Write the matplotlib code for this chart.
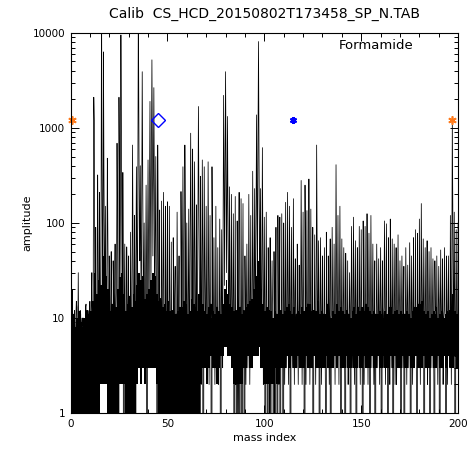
import numpy as np
import matplotlib
matplotlib.use("Agg")
import matplotlib.pyplot as plt
from matplotlib.ticker import FixedLocator, LogLocator, NullFormatter

plt.rcParams["path.simplify"] = False

# ---- Daten ----
title = "Calib  CS_HCD_20150802T173458_SP_N.TAB"
label = "Formamide"

# Peakhoehe je Massenindex 0..200
peaks = [
    25, 20, 12, 15, 30, 12, 10, 8, 14, 12,
    15, 30, 2100, 90, 320, 210, 30000, 6300, 150, 480,
    45, 50, 40, 60, 690, 2100, 9500, 340, 60, 56,
    45, 80, 660, 120, 390, 25000, 400, 3900, 100, 250,
    460, 1900, 5200, 2650, 500, 660, 137, 170, 210, 150,
    167, 150, 63, 70, 35, 130, 45, 214, 390, 660,
    100, 140, 880, 600, 440, 155, 1680, 310, 460, 390,
    150, 440, 120, 390, 70, 150, 55, 110, 85, 2200,
    3900, 1320, 240, 200, 125, 190, 105, 210, 180, 160,
    45, 60, 200, 120, 350, 230, 1370, 8100, 230, 620,
    115, 130, 55, 70, 40, 50, 90, 120, 115, 125,
    100, 165, 210, 150, 90, 180, 42, 60, 36, 280,
    130, 250, 135, 290, 140, 90, 75, 660, 65, 70,
    45, 55, 80, 45, 68, 90, 60, 410, 120, 150,
    68, 55, 48, 40, 30, 92, 115, 65, 55, 92,
    85, 105, 92, 125, 78, 120, 60, 40, 60, 42,
    55, 40, 105, 98, 70, 110, 68, 60, 55, 75,
    40, 45, 35, 55, 36, 62, 45, 70, 85, 78,
    110, 160, 68, 55, 65, 50, 55, 42, 40, 45,
    35, 52, 42, 55, 45, 45, 120, 1200, 130, 85,
    100,
]

# Rauschwerte zwischen den Peaks (3 Stuetzstellen je Masse, Counts)
noise_000 = [
    9, 0, 12, 4, 11, 0, 7, 1, 10, 13, 0, 6, 5, 9, 0, 11, 2, 8, 0, 10, 6, 8, 0, 13, 3, 12, 0, 10, 1, 7,
    0, 9, 14, 6, 0, 45, 1200, 35, 0, 8, 14, 2, 60, 11, 0, 7, 3, 70, 450, 55, 28, 320, 40, 14, 9, 4, 22, 90, 12, 0,
    12, 0, 16, 3, 14, 0, 18, 1, 9, 0, 13, 22, 120, 8, 0, 260, 15, 150, 900, 60, 3, 40, 0, 15, 10, 2, 0, 14, 0, 11,
    0, 17, 5, 12, 0, 20, 70, 9, 1, 16, 0, 40, 45, 6, 300, 1500, 90, 40, 50, 8, 180, 350, 30, 12, 6, 3, 25, 30, 0, 45,
    60, 4, 220, 200, 18, 500, 600, 45, 300, 250, 25, 70, 40, 6, 0, 55, 10, 2, 0, 16, 8, 20, 0, 14, 25, 1, 0, 18, 0, 12,
]
noise_050 = [
    0, 15, 9, 13, 0, 7, 2, 12, 0, 9, 0, 16, 0, 11, 4, 14, 0, 10, 1, 13, 0, 22, 0, 30, 45, 2, 0, 60, 0, 12,
    10, 0, 14, 15, 1, 80, 90, 8, 0, 55, 0, 40, 35, 3, 12, 0, 14, 120, 180, 20, 0, 30, 2, 40, 45, 0, 15, 30, 5, 11,
    13, 3, 9, 40, 2, 12, 8, 14, 0, 40, 3, 10, 12, 2, 7, 9, 13, 3, 2, 11, 8, 14, 0, 10, 11, 3, 120, 260, 22, 400,
    450, 30, 160, 120, 12, 6, 25, 5, 14, 18, 6, 11, 13, 0, 9, 2, 12, 0, 14, 1, 10, 0, 13, 3, 11, 0, 16, 3, 12, 0,
    10, 2, 13, 12, 3, 9, 20, 2, 14, 11, 4, 15, 30, 6, 20, 25, 8, 150, 140, 30, 900, 600, 60, 18, 25, 3, 40, 60, 2, 12,
]
noise_100 = [
    11, 0, 9, 14, 2, 0, 8, 12, 1, 0, 10, 13, 12, 2, 0, 9, 0, 14, 3, 11, 0, 13, 2, 10, 0, 12, 8, 11, 3, 0,
    14, 2, 9, 10, 3, 13, 22, 2, 11, 12, 0, 15, 9, 3, 12, 13, 2, 18, 8, 11, 3, 12, 2, 9, 3, 10, 14, 28, 2, 11,
    12, 3, 0, 18, 2, 12, 10, 14, 3, 25, 2, 11, 13, 3, 9, 0, 12, 10, 9, 2, 14, 60, 4, 12, 11, 0, 9, 13, 2, 10,
    3, 11, 8, 12, 2, 0, 9, 14, 3, 11, 2, 13, 0, 10, 12, 14, 3, 9, 10, 2, 15, 40, 3, 11, 12, 2, 16, 14, 0, 10,
    9, 3, 12, 13, 2, 0, 10, 12, 3, 2, 11, 9, 12, 0, 13, 14, 3, 10, 16, 2, 12, 9, 0, 11, 3, 13, 10, 12, 2, 14,
]
noise_150 = [
    11, 3, 0, 13, 2, 12, 10, 14, 3, 15, 2, 11, 12, 0, 9, 14, 3, 13, 9, 2, 12, 0, 11, 10, 13, 3, 9, 10, 2, 14,
    12, 0, 11, 3, 10, 13, 14, 2, 12, 11, 3, 0, 10, 13, 2, 15, 3, 11, 9, 0, 12, 13, 2, 10, 2, 12, 9, 11, 3, 14,
    10, 0, 12, 13, 3, 9, 0, 11, 10, 12, 2, 13, 9, 3, 11, 14, 0, 10, 11, 2, 12, 3, 13, 9, 12, 2, 0, 10, 14, 3,
    13, 2, 12, 20, 3, 11, 9, 0, 13, 12, 3, 10, 2, 11, 12, 13, 0, 9, 10, 3, 14, 11, 2, 0, 12, 13, 3, 9, 2, 11,
    14, 0, 10, 12, 3, 13, 2, 10, 12, 11, 3, 0, 13, 2, 10, 9, 12, 3, 14, 2, 40, 150, 8, 12, 11, 0, 13, 10, 3, 12,
]

# dichter Rauschsockel je Masse: Ober- und Untergrenze (0 = bis zur Achse)
floor_top = [
    9, 10, 8, 10, 12, 9, 8, 10, 9, 11, 12, 15, 30, 18, 25, 22, 50, 45, 28, 20,
    12, 14, 11, 13, 20, 27, 30, 18, 12, 14, 11, 13, 18, 15, 22, 30, 25, 28, 16, 18,
    20, 25, 30, 28, 18, 15, 12, 13, 14, 12, 11, 12, 10, 11, 9, 12, 10, 13, 15, 14,
    11, 12, 16, 14, 13, 12, 18, 13, 14, 12, 11, 13, 10, 12, 11, 10, 12, 11, 14, 20,
    25, 18, 14, 13, 12, 11, 13, 12, 11, 12, 13, 14, 15, 16, 20, 28, 40, 55, 20, 14,
    12, 13, 11, 12, 10, 12, 11, 13, 12, 11, 12, 13, 14, 12, 11, 13, 10, 12, 11, 13,
    12, 13, 11, 14, 12, 11, 12, 15, 11, 12, 10, 11, 12, 11, 10, 12, 11, 14, 12, 13,
    12, 11, 10, 11, 10, 12, 13, 11, 10, 12, 13, 12, 11, 13, 12, 11, 12, 10, 11, 12,
    11, 10, 12, 11, 12, 13, 11, 12, 10, 11, 12, 11, 10, 12, 11, 10, 12, 11, 13, 12,
    14, 15, 12, 11, 12, 10, 11, 12, 11, 10, 11, 12, 10, 11, 12, 10, 13, 18, 12, 11,
]
floor_bottom = [
    0, 0, 0, 0, 0, 0, 0, 0, 0, 0, 0, 0, 0, 0, 0, 2, 2, 2, 2, 0,
    0, 0, 0, 0, 0, 2, 2, 2, 0, 0, 0, 0, 0, 0, 2, 3, 2, 3, 2, 3,
    3, 3, 3, 3, 2, 0, 0, 0, 0, 0, 0, 0, 0, 1, 0, 0, 0, 0, 1, 0,
    0, 0, 0, 1, 0, 0, 0, 2, 3, 3, 2, 3, 4, 3, 3, 2, 3, 4, 4, 5,
    5, 4, 4, 3, 2, 2, 2, 2, 2, 3, 3, 4, 3, 3, 4, 4, 4, 5, 3, 3,
    2, 2, 2, 2, 2, 3, 2, 2, 3, 3, 3, 4, 3, 3, 4, 3, 3, 4, 3, 3,
    3, 4, 3, 3, 3, 4, 3, 3, 3, 4, 3, 3, 4, 3, 3, 3, 4, 3, 4, 3,
    3, 3, 4, 3, 3, 4, 3, 3, 4, 3, 3, 4, 3, 3, 3, 4, 3, 3, 4, 3,
    3, 4, 3, 3, 3, 4, 3, 4, 3, 3, 3, 4, 3, 3, 4, 3, 3, 3, 4, 3,
    3, 3, 4, 3, 3, 3, 4, 3, 3, 4, 3, 3, 4, 3, 3, 4, 3, 3, 4, 3,
]

# Marker: Kalibrierlinien und Formamid-Masse
calib_x = [1, 197]
calib_y = [1200, 1200]
form_x = [45]
form_y = [1200]
ref_x = [115]
ref_y = [1200]

# ---- Spektrum zusammensetzen ----
noise = noise_000 + noise_050 + noise_100 + noise_150
xs, ys = [], []
for m in range(200):
    xs += [m, m + 0.25, m + 0.5, m + 0.75]
    ys += [peaks[m]] + noise[3 * m:3 * m + 3]
xs.append(200)
ys.append(peaks[200])
xs = np.array(xs, dtype=float)
ys = np.array(ys, dtype=float)

fx = np.arange(201)
f_top = np.array(floor_top + floor_top[-1:], dtype=float)
f_bot = np.array(floor_bottom + floor_bottom[-1:], dtype=float)
f_bot[f_bot == 0] = 0.5

# ---- Plot ----
fig = plt.figure(figsize=(4.67, 4.5), dpi=100)
ax = fig.add_axes([0.151, 0.082, 0.830, 0.845])

ax.set_yscale("log", nonpositive="clip")
ax.fill_between(fx, f_bot, f_top, step="post", color="black", lw=0)
ax.plot(xs, ys, color="black", lw=0.55)
ax.set_xlim(0, 200)
ax.set_ylim(1, 10000)

ax.plot(calib_x, calib_y, ls="none", marker=(6, 2, 0), ms=6, mew=1.2, color="#ff7a1a", clip_on=False)
ax.plot(form_x, form_y, ls="none", marker="D", ms=7, mew=1.0, mfc="none", mec="#0000ff")
ax.plot(ref_x, ref_y, ls="none", marker=(6, 2, 0), ms=5, mew=1.5, color="#0000ff")

ax.set_title(title, fontsize=10, pad=11)
ax.set_xlabel("mass index", fontsize=8, labelpad=3)
ax.set_ylabel("amplitude", fontsize=8, labelpad=0)
ax.text(0.886, 0.968, label, transform=ax.transAxes, ha="right", va="center", fontsize=9.5)

ax.xaxis.set_major_locator(FixedLocator([0, 50, 100, 150, 200]))
ax.xaxis.set_minor_locator(FixedLocator(np.arange(0, 201, 10)))
ax.yaxis.set_minor_locator(LogLocator(base=10, subs=np.arange(2, 10)))
ax.yaxis.set_minor_formatter(NullFormatter())
ax.set_yticks([1, 10, 100, 1000, 10000])
ax.set_yticklabels(["1", "10", "100", "1000", "10000"])

ax.tick_params(which="both", direction="in", top=True, right=True, labelsize=7.5, width=0.7)
ax.tick_params(which="major", length=6, pad=4)
ax.tick_params(which="minor", length=3)
for s in ax.spines.values():
    s.set_linewidth(0.8)

fig.savefig("out.png", dpi=100)
